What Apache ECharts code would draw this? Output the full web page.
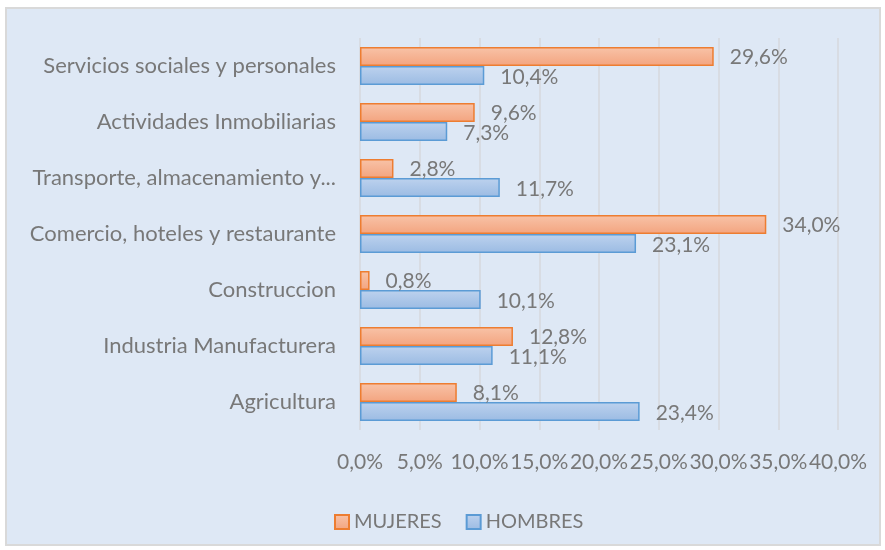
<!DOCTYPE html>
<html>
<head>
<meta charset="utf-8">
<script src="https://cdn.jsdelivr.net/npm/echarts@6/dist/echarts.min.js"></script>
<style>
  html, body { margin: 0; padding: 0; background: #ffffff; }
  #main { width: 885px; height: 550px; }
</style>
</head>
<body>
<div id="main"></div>
<script>
// categorias (de abajo hacia arriba, como en el eje)
var categorias = [
  "Agricultura",
  "Industria Manufacturera",
  "Construccion",
  "Comercio, hoteles y restaurante",
  "Transporte, almacenamiento y...",
  "Actividades Inmobiliarias",
  "Servicios sociales y personales"
];
var mujeres = [8.1, 12.8, 0.8, 34.0, 2.8, 9.6, 29.6];
var hombres = [23.4, 11.1, 10.1, 23.1, 11.7, 7.3, 10.4];

var fuente = "Lato";
var gris = "#787878";

function pct(v) {
  return v.toFixed(1).replace(".", ",") + "%";
}

var chart = echarts.init(document.getElementById("main"));
chart.setOption({
  backgroundColor: "#ffffff",
  animation: false,
  graphic: [
    {
      type: "rect",
      z: -10,
      shape: { x: 6, y: 8, width: 874, height: 537 },
      style: { fill: "#dee8f5", stroke: "#d9d9d9", lineWidth: 2 }
    }
  ],
  grid: { left: 360, right: 47, top: 38, bottom: 120, containLabel: false },
  legend: {
    data: ["MUJERES", "HOMBRES"],
    left: 329,
    top: 507,
    icon: "rect",
    itemWidth: 14,
    itemHeight: 14,
    itemGap: 24,
    textStyle: { fontFamily: fuente, fontSize: 20, color: gris }
  },
  xAxis: {
    type: "value",
    min: 0,
    max: 40,
    interval: 5,
    axisLine: { show: false },
    axisTick: { show: false },
    axisLabel: {
      fontFamily: fuente,
      fontSize: 21,
      color: gris,
      margin: 22,
      formatter: function (v) { return pct(v); }
    },
    splitLine: { lineStyle: { color: "#d6d9dd", width: 1.5 } }
  },
  yAxis: {
    type: "category",
    data: categorias,
    axisLine: { show: false },
    axisTick: { show: false },
    axisLabel: { fontFamily: fuente, fontSize: 22, color: gris, margin: 24 }
  },
  series: [
    {
      name: "MUJERES",
      type: "bar",
      data: mujeres,
      barWidth: 19,
      barGap: "0%",
      itemStyle: {
        color: new echarts.graphic.LinearGradient(0, 0, 0, 1, [
          { offset: 0, color: "#f8c3a8" },
          { offset: 1, color: "#f3a47f" }
        ]),
        borderColor: "#ed7d31",
        borderWidth: 1.5
      },
      label: {
        show: true,
        position: "right",
        distance: 16,
        offset: [0, 1],
        fontFamily: fuente,
        fontSize: 21,
        color: gris,
        formatter: function (p) { return pct(p.value); }
      }
    },
    {
      name: "HOMBRES",
      type: "bar",
      data: hombres,
      barWidth: 19,
      barGap: "0%",
      itemStyle: {
        color: new echarts.graphic.LinearGradient(0, 0, 0, 1, [
          { offset: 0, color: "#bdd2ee" },
          { offset: 1, color: "#9bbbe3" }
        ]),
        borderColor: "#5b9bd5",
        borderWidth: 1.5
      },
      label: {
        show: true,
        position: "right",
        distance: 16,
        offset: [0, 2],
        fontFamily: fuente,
        fontSize: 21,
        color: gris,
        formatter: function (p) { return pct(p.value); }
      }
    }
  ]
});
</script>
</body>
</html>
